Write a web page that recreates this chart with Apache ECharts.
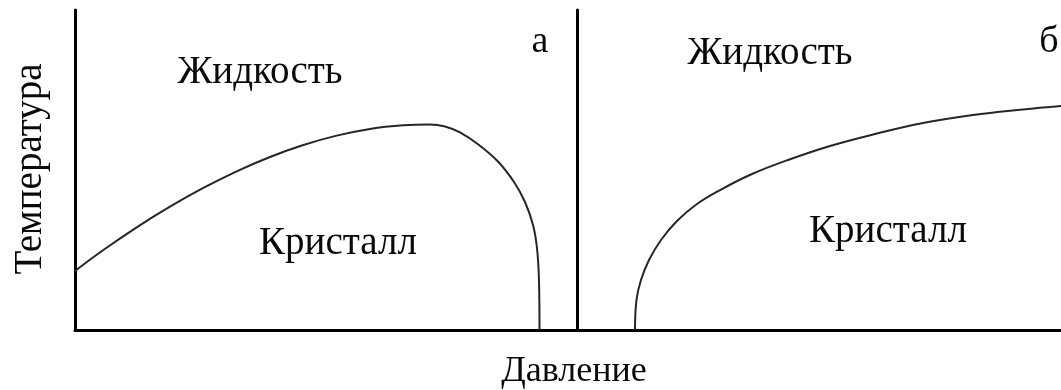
<!DOCTYPE html>
<html>
<head>
<meta charset="utf-8">
<script src="https://cdn.jsdelivr.net/npm/echarts@6/dist/echarts.min.js"></script>
<style>
  html, body { margin: 0; padding: 0; background: #fff; }
  #chart { width: 1061px; height: 390px; }
</style>
</head>
<body>
<div id="chart"></div>
<script>
// Phase boundary "а": melting curve with a temperature maximum
const curveAPressure = [0, 5.64, 12.29, 18.92, 25.56, 32.21, 38.84, 45.48, 52.13, 58.76, 65.40, 70.72, 73.71, 76.69, 80.48, 84.26, 87.45, 89.64, 91.24, 92.03, 92.43, 92.53];
const curveATemp     = [18.44, 25.0, 32.09, 38.53, 44.38, 49.59, 54.06, 57.81, 60.75, 62.84, 63.97, 64.22, 63.59, 61.72, 57.81, 52.66, 46.25, 40, 32.81, 25.63, 15.31, 0];

// Phase boundary "б": monotonically rising melting curve
const curveBPressure = [11.98, 12.29, 13.22, 14.88, 17.36, 20.66, 24.79, 29.96, 36.16, 43.60, 52.27, 61.57, 71.49, 81.82, 92.15, 100];
const curveBTemp     = [0, 9.38, 15.63, 21.88, 28.13, 34.06, 39.38, 44.06, 48.75, 53.13, 57.5, 61.25, 64.69, 67.19, 68.91, 70];

const panelLetters = ['а', 'б'];
const phaseLiquid = 'Жидкость';
const phaseCrystal = 'Кристалл';
const xTitle = 'Давление';
const yTitle = 'Температура';

const FONT = '"Liberation Serif", "Times New Roman", serif';

const zip = (xs, ys) => xs.map((x, i) => [x, ys[i]]);

const axisLineStyle = { show: true, onZero: false, lineStyle: { color: '#000', width: 3 } };
const hiddenParts = { axisTick: { show: false }, axisLabel: { show: false }, splitLine: { show: false } };

function mkAxis(idx) {
  return Object.assign({ type: 'value', gridIndex: idx, min: 0, max: 100, axisLine: axisLineStyle }, hiddenParts);
}

function txt(text, x, y, size, extra) {
  return Object.assign({
    type: 'text',
    x: x, y: y,
    style: {
      text: text,
      font: size + 'px ' + FONT,
      fill: '#0a0a0a',
      align: 'center',
      verticalAlign: 'middle'
    }
  }, extra || {});
}

const chart = echarts.init(document.getElementById('chart'), null, { renderer: 'canvas' });

const curveStyle = { color: '#262626', width: 2 };

chart.setOption({
  animation: false,
  backgroundColor: '#fff',
  grid: [
    { left: 75, top: 10, width: 502, height: 320 },
    { left: 577, top: 10, width: 484, height: 320 }
  ],
  xAxis: [mkAxis(0), mkAxis(1)],
  yAxis: [mkAxis(0), mkAxis(1)],
  series: [
    {
      type: 'line', xAxisIndex: 0, yAxisIndex: 0,
      data: zip(curveAPressure, curveATemp),
      smooth: 0.4, showSymbol: false,
      lineStyle: curveStyle
    },
    {
      type: 'line', xAxisIndex: 1, yAxisIndex: 1,
      data: zip(curveBPressure, curveBTemp),
      smooth: 0.4, showSymbol: false,
      lineStyle: curveStyle
    }
  ],
  graphic: [
    txt(phaseLiquid, 260, 73, 39),
    txt(phaseCrystal, 338, 244, 39),
    txt(panelLetters[0], 540, 42, 38),
    txt(phaseLiquid, 770, 54, 39),
    txt(phaseCrystal, 888, 232, 39),
    txt(panelLetters[1], 1049, 42, 38),
    txt(xTitle, 574, 372, 36),
    txt(yTitle, 31, 169, 39, { rotation: Math.PI / 2 })
  ]
});
</script>
</body>
</html>
